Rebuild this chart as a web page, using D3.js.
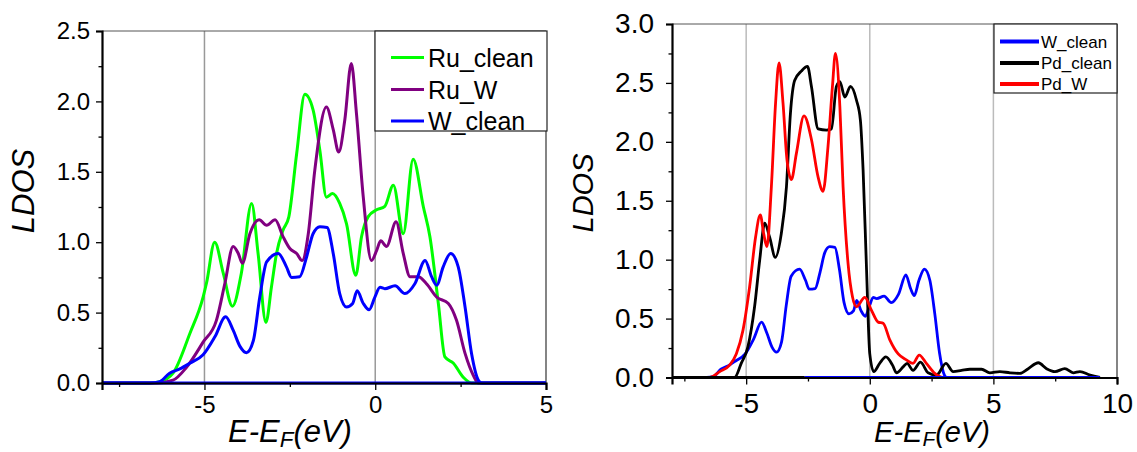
<!DOCTYPE html>
<html><head><meta charset="utf-8">
<script src="https://cdn.jsdelivr.net/npm/d3@7"></script>
<style>
body{margin:0;background:#fff;}
text{font-family:"Liberation Sans",Arial,sans-serif;}
</style></head>
<body>
<svg id="c" width="1137" height="452"></svg>
<script>
// ---------- DATA ----------
const ruClean = [[-8,0],[-6.6,0],[-6.3,0.01],[-5.92,0.07],[-5.43,0.35],[-5.04,0.61],[-4.94,0.71],[-4.70,1.00],[-4.45,0.78],[-4.18,0.545],[-3.92,0.78],[-3.62,1.275],[-3.43,0.92],[-3.20,0.43],[-3.04,0.68],[-2.89,0.92],[-2.70,1.085],[-2.53,1.18],[-2.30,1.63],[-2.06,2.05],[-1.82,1.94],[-1.62,1.65],[-1.43,1.32],[-1.25,1.345],[-1.04,1.275],[-0.84,1.13],[-0.57,0.765],[-0.40,1.04],[-0.21,1.18],[0.04,1.23],[0.28,1.255],[0.53,1.405],[0.82,1.06],[1.11,1.59],[1.41,1.25],[1.60,1.04],[1.85,0.56],[2.04,0.185],[2.29,0.14],[2.58,0.04],[2.82,0],[5,0]];
const ruW = [[-8,0],[-6.4,0],[-5.92,0.02],[-5.53,0.11],[-5.04,0.29],[-4.65,0.445],[-4.40,0.71],[-4.16,0.97],[-4.01,0.92],[-3.89,0.85],[-3.67,1.06],[-3.40,1.16],[-3.18,1.12],[-2.93,1.16],[-2.70,1.04],[-2.50,0.955],[-2.30,0.92],[-2.14,0.87],[-1.96,1.06],[-1.77,1.51],[-1.43,1.96],[-1.23,1.80],[-1.07,1.64],[-0.89,1.87],[-0.70,2.27],[-0.55,1.915],[-0.35,1.32],[-0.11,0.87],[0.04,0.94],[0.16,1.01],[0.33,0.97],[0.61,1.145],[0.82,0.92],[1.02,0.755],[1.26,0.755],[1.50,0.705],[1.80,0.61],[2.14,0.565],[2.38,0.445],[2.63,0.21],[2.87,0.055],[3.02,0],[5,0]];
const wClean = [[-8,0],[-6.6,0],[-6.31,0.01],[-6.02,0.07],[-5.72,0.10],[-5.43,0.14],[-5.04,0.20],[-4.69,0.33],[-4.38,0.47],[-4.16,0.375],[-3.96,0.26],[-3.77,0.215],[-3.57,0.30],[-3.38,0.61],[-3.18,0.86],[-2.84,0.92],[-2.60,0.825],[-2.45,0.75],[-2.21,0.755],[-2.01,0.895],[-1.82,1.06],[-1.62,1.11],[-1.41,1.105],[-1.23,0.92],[-1.04,0.635],[-0.84,0.54],[-0.66,0.565],[-0.53,0.655],[-0.35,0.565],[-0.18,0.52],[-0.01,0.61],[0.14,0.68],[0.28,0.67],[0.58,0.69],[0.87,0.635],[1.16,0.705],[1.46,0.87],[1.65,0.755],[1.80,0.695],[1.99,0.825],[2.21,0.92],[2.43,0.825],[2.63,0.54],[2.82,0.21],[3.02,0.02],[3.12,0],[9.3,0]];
const pdClean = [[-8,0],[-5.47,0],[-5.20,0.12],[-4.93,0.26],[-4.66,0.60],[-4.45,1.00],[-4.25,1.31],[-4.05,1.19],[-3.82,1.02],[-3.58,1.22],[-3.37,1.62],[-3.21,2.24],[-3.04,2.52],[-2.77,2.60],[-2.52,2.64],[-2.36,2.47],[-2.09,2.11],[-1.75,2.10],[-1.55,2.11],[-1.35,2.47],[-1.21,2.51],[-1.01,2.38],[-0.78,2.47],[-0.54,2.355],[-0.38,2.185],[-0.27,1.76],[-0.13,0.91],[0,0.20],[0.16,0.05],[0.40,0.12],[0.65,0.175],[0.92,0.105],[1.08,0.04],[1.35,0.09],[1.51,0.12],[1.75,0.06],[2.05,0.13],[2.36,0.04],[2.70,0.02],[3.08,0.12],[3.37,0.05],[3.71,0.06],[4.05,0.07],[4.52,0.07],[4.86,0.04],[5.26,0.05],[5.67,0.04],[6.07,0.035],[6.41,0.075],[6.82,0.125],[7.15,0.075],[7.49,0.05],[7.89,0.075],[8.23,0.04],[8.50,0.05],[8.91,0.02],[9.31,0]];
const pdW = [[-8,0],[-6.48,0],[-6.07,0.05],[-5.67,0.105],[-5.40,0.20],[-5.13,0.40],[-4.86,0.77],[-4.62,1.19],[-4.43,1.38],[-4.29,1.22],[-4.16,1.11],[-3.98,1.62],[-3.81,2.33],[-3.67,2.67],[-3.51,2.33],[-3.35,1.85],[-3.17,1.68],[-2.97,1.90],[-2.66,2.22],[-2.36,2.02],[-2.09,1.70],[-1.89,1.58],[-1.69,1.96],[-1.51,2.47],[-1.39,2.75],[-1.21,2.30],[-1.08,1.62],[-0.88,0.97],[-0.70,0.685],[-0.54,0.60],[-0.20,0.68],[0.07,0.57],[0.34,0.47],[0.54,0.46],[0.81,0.32],[1.15,0.20],[1.48,0.15],[1.75,0.12],[2.00,0.19],[2.29,0.12],[2.63,0.035],[2.97,0],[4.3,0]];
// zero-level segments drawn along the axis
const leftBaselines = [{name:"W_clean", from:-8, to:5}];
const rightBaselines = [{name:"Pd_clean", from:-8, to:-2.63},{name:"W_clean", from:-2.63, to:9.3}];

const leftSeries = ["Ru_clean","Ru_W","W_clean"];
const rightSeries = ["W_clean","Pd_clean","Pd_W"];
const seriesData = {"Ru_clean":ruClean,"Ru_W":ruW,"W_clean":wClean,"Pd_clean":pdClean,"Pd_W":pdW};
const colors = {"Ru_clean":"#00ff00","Ru_W":"#800080","W_clean":"#0000ff","Pd_clean":"#000000","Pd_W":"#ff0000"};

const leftXMajor=[-5,0,5], leftXMinor=[-7.5,-2.5,2.5];
const leftYMajor=[0,0.5,1.0,1.5,2.0,2.5], leftYMinor=[0.25,0.75,1.25,1.75,2.25];
const rightXMajor=[-5,0,5,10], rightXMinor=[-7.5,-2.5,2.5,7.5];
const rightYMajor=[0,0.5,1.0,1.5,2.0,2.5,3.0], rightYMinor=[0.25,0.75,1.25,1.75,2.25,2.75];

// ---------- DRAW ----------
const svg = d3.select("#c");

function panel(o){
  const x = d3.scaleLinear().domain(o.xDomain).range([o.x0,o.x1]);
  const y = d3.scaleLinear().domain(o.yDomain).range([o.y1,o.y0]);
  const g = svg.append("g");
  const cid = "clip"+o.id;
  svg.append("clipPath").attr("id",cid).append("rect")
    .attr("x",o.x0).attr("y",o.y0-4).attr("width",o.x1-o.x0).attr("height",o.y1-o.y0+6);
  // gridlines
  g.selectAll(".grid").data(o.grid).enter().append("line")
    .attr("x1",d=>x(d)).attr("x2",d=>x(d)).attr("y1",o.y0).attr("y2",o.y1)
    .attr("stroke",o.gridColor).attr("stroke-width",1.5);
  // top/right border
  g.append("line").attr("x1",o.x0).attr("x2",o.x1).attr("y1",o.y0).attr("y2",o.y0).attr("stroke","#555").attr("stroke-width",1);
  g.append("line").attr("x1",o.x1).attr("x2",o.x1).attr("y1",o.y0).attr("y2",o.y1).attr("stroke","#333").attr("stroke-width",1.2);
  // curves
  const line = d3.line().x(d=>x(d[0])).y(d=>y(d[1])).curve(d3.curveMonotoneX);
  const cg = g.append("g").attr("clip-path",`url(#${cid})`);
  o.series.forEach(s=>{
    cg.append("path").attr("d",line(seriesData[s])).attr("fill","none")
      .attr("stroke",colors[s]).attr("stroke-width",o.lw).attr("stroke-linejoin","round");
  });
  o.baselines.forEach(b=>{
    cg.append("path").attr("d",line([[b.from,0],[b.to,0]])).attr("fill","none")
      .attr("stroke",colors[b.name]).attr("stroke-width",o.lw);
  });
  // axes
  const fs = o.tickFont;
  const ax = g.append("g").attr("transform",`translate(0,${o.y1})`)
    .call(d3.axisBottom(x).tickValues(o.xMajor).tickSize(7).tickPadding(o.xPad).tickFormat(d=>String(d)));
  const axm = g.append("g").attr("transform",`translate(0,${o.y1})`)
    .call(d3.axisBottom(x).tickValues(o.xMinor).tickSize(4).tickFormat(""));
  const ay = g.append("g").attr("transform",`translate(${o.x0},0)`)
    .call(d3.axisLeft(y).tickValues(o.yMajor).tickSize(6).tickPadding(o.yPad).tickFormat(d3.format(".1f")));
  const aym = g.append("g").attr("transform",`translate(${o.x0},0)`)
    .call(d3.axisLeft(y).tickValues(o.yMinor).tickSize(3.5).tickFormat(""));
  [axm,aym].forEach(a=>a.select(".domain").remove());
  [ax,axm,ay,aym].forEach(a=>{
    a.selectAll(".tick line").attr("stroke","#000").attr("stroke-width",1.3);
    a.selectAll("text").attr("font-size",fs).attr("fill","#000").attr("font-family","Liberation Sans, Arial, sans-serif");
  });
  [ax,ay].forEach(a=>a.select(".domain").attr("stroke","#000").attr("stroke-width",2.2));
  // axis titles
  svg.append("text").attr("transform",`translate(${o.ylabX},${o.ylabY}) rotate(-90)`)
    .attr("text-anchor","middle").attr("font-style","italic").attr("font-size",o.titleFont).text("LDOS");
  const xt = svg.append("text").attr("x",o.xlabX).attr("y",o.xlabY).attr("text-anchor","middle")
    .attr("font-style","italic").attr("font-size",o.titleFont);
  xt.append("tspan").text("E-E");
  xt.append("tspan").attr("font-size",o.titleFont*0.72).attr("dy",o.titleFont*0.15).text("F");
  xt.append("tspan").attr("dy",-o.titleFont*0.15).text("(eV)");
  // legend
  const L = o.legend;
  g.append("rect").attr("x",L.x).attr("y",L.y).attr("width",L.w).attr("height",L.h)
    .attr("fill","#fff").attr("stroke","#222").attr("stroke-width",1.2);
  o.series.forEach((s,i)=>{
    const ry = L.rows[i];
    g.append("line").attr("x1",L.lx0).attr("x2",L.lx1).attr("y1",ry).attr("y2",ry)
      .attr("stroke",colors[s]).attr("stroke-width",L.lw);
    g.append("text").attr("x",L.tx).attr("y",ry).attr("dy","0.36em")
      .attr("font-size",L.fs).attr("fill","#000").text(s);
  });
}

panel({id:"L", xDomain:[-8,5], yDomain:[0,2.5], x0:102, x1:546, y0:31, y1:383,
  grid:[-5,0], gridColor:"#999", series:leftSeries, baselines:leftBaselines, lw:3,
  xMajor:leftXMajor, xMinor:leftXMinor, yMajor:leftYMajor, yMinor:leftYMinor,
  tickFont:24, xPad:6, yPad:6, titleFont:31, ylabX:34, ylabY:191, xlabX:290, xlabY:442,
  legend:{x:375,y:31,w:172,h:100,rows:[57.5,89.5,121],lx0:391,lx1:424,tx:428,fs:25,lw:3}});

panel({id:"R", xDomain:[-8,10], yDomain:[0,3], x0:672, x1:1117, y0:24, y1:377.5,
  grid:[-5,0,5], gridColor:"#bbb", series:rightSeries, baselines:rightBaselines, lw:2.8,
  xMajor:rightXMajor, xMinor:rightXMinor, yMajor:rightYMajor, yMinor:rightYMinor,
  tickFont:28, xPad:9, yPad:12, titleFont:29, ylabX:593, ylabY:193, xlabX:932, xlabY:442,
  legend:{x:994,y:24,w:123,h:69,rows:[41.5,63,84],lx0:1000,lx1:1039,tx:1041,fs:17,lw:4}});
</script>
</body></html>
